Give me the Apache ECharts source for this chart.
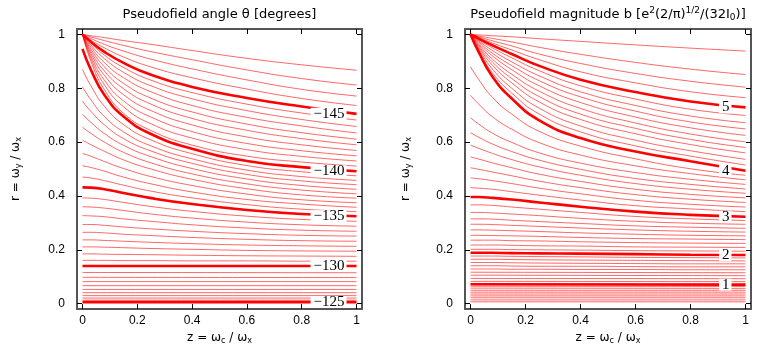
<!DOCTYPE html>
<html><head><meta charset="utf-8">
<script src="https://cdn.jsdelivr.net/npm/echarts@6/dist/echarts.min.js"></script>
<style>html,body{margin:0;padding:0;background:#fff}#c{width:778px;height:350px}</style>
</head><body><div id="c"></div>
<script>
// z = omega_c/omega_x sample positions used by the curved contour rows
const zGrid = [0, 0.03, 0.08, 0.15, 0.25, 0.4, 0.6, 0.8, 1];
const xTicks = [0, 0.2, 0.4, 0.6, 0.8, 1];
const yTicks = [0, 0.2, 0.4, 0.6, 0.8, 1];

// Left panel: pseudofield angle theta contours (degrees)
const angleLevels = [-147,-146.5,-146,-145.5,-145,-144.5,-144,-143.5,-143,-142.5,-142,-141.5,-141,-140.5,
  -140,-139.5,-139,-138.5,-138,-137.5,-137,-136.5,-136,-135.5,
  -135,-134.5,-134,-133.5,-133,-132.5,-132,-131.5,-131,-130.5,
  -130,-129.5,-129,-128.5,-128,-127.5,-127,-126.5,-126,-125.5,-125];
const angleR = [
  [1,0.995,0.988,0.977,0.963,0.940,0.911,0.887,0.867],
  [1,0.991,0.977,0.959,0.936,0.906,0.868,0.836,0.812],
  [1,0.985,0.963,0.938,0.908,0.872,0.831,0.796,0.771],
  [1,0.979,0.950,0.916,0.879,0.839,0.797,0.762,0.736],
  [1,0.973,0.935,0.894,0.850,0.805,0.764,0.732,0.705],
  [1,0.968,0.923,0.877,0.830,0.784,0.741,0.708,0.682],
  [1,0.961,0.910,0.859,0.809,0.761,0.717,0.684,0.658],
  [1,0.954,0.895,0.839,0.787,0.736,0.692,0.660,0.634],
  [1,0.946,0.880,0.818,0.763,0.712,0.667,0.635,0.611],
  [1,0.938,0.864,0.798,0.741,0.688,0.644,0.613,0.590],
  [1,0.930,0.848,0.776,0.717,0.664,0.619,0.590,0.569],
  [1,0.921,0.830,0.753,0.693,0.639,0.595,0.568,0.549],
  [1,0.912,0.813,0.731,0.668,0.615,0.572,0.547,0.530],
  [1,0.902,0.795,0.707,0.643,0.589,0.548,0.526,0.511],
  [0.946,0.870,0.775,0.695,0.630,0.575,0.530,0.507,0.492],
  [0.870,0.810,0.733,0.665,0.608,0.557,0.513,0.490,0.475],
  [0.805,0.758,0.695,0.638,0.586,0.538,0.496,0.472,0.458],
  [0.752,0.715,0.664,0.613,0.567,0.521,0.480,0.456,0.442],
  [0.703,0.674,0.632,0.588,0.546,0.502,0.463,0.439,0.425],
  [0.655,0.633,0.600,0.562,0.523,0.482,0.445,0.422,0.408],
  [0.607,0.591,0.566,0.534,0.500,0.462,0.427,0.404,0.392],
  [0.558,0.548,0.528,0.502,0.472,0.439,0.407,0.386,0.375],
  [0.512,0.506,0.492,0.470,0.445,0.415,0.387,0.370,0.358],
  [0.470,0.467,0.457,0.440,0.418,0.393,0.368,0.351,0.342],
  [0.432,0.431,0.425,0.411,0.392,0.370,0.348,0.333,0.325],
  [0.393,0.392,0.387,0.376,0.361,0.343,0.325,0.313,0.306],
  [0.360,0.359,0.355,0.346,0.333,0.318,0.303,0.293,0.288],
  [0.327,0.326,0.323,0.315,0.306,0.293,0.281,0.273,0.269],
  [0.294,0.294,0.291,0.285,0.278,0.269,0.260,0.254,0.251],
  [0.265,0.265,0.263,0.258,0.253,0.246,0.239,0.234,0.232],
  [0.237,0.237,0.235,0.232,0.228,0.223,0.218,0.215,0.213],
  [0.211,0.211,0.210,0.208,0.205,0.202,0.198,0.196,0.195],
  [0.185,0.185,0.184,0.183,0.182,0.180,0.178,0.177,0.176],
  [0.161,0.161,0.161,0.160,0.160,0.159,0.159,0.158,0.158],
  [0.140,0.140],
  [0.116,0.115],
  [0.098,0.097],
  [0.082,0.082],
  [0.067,0.067],
  [0.053,0.053],
  [0.041,0.041],
  [0.030,0.030],
  [0.021,0.021],
  [0.013,0.013],
  [0.006,0.006]
];
const angleLabelLevels = [-145, -140, -135, -130, -125];

// Right panel: pseudofield magnitude b contours
const magLevels = [5.4,5.3,5.2,5.1,5.0,4.9,4.8,4.7,4.6,4.5,4.4,4.3,4.2,4.1,4.0,
  3.9,3.8,3.7,3.6,3.5,3.4,3.3,3.2,3.1,3.0,2.9,2.8,2.7,2.6,2.5,2.4,2.3,2.2,2.1,2.0,
  1.9,1.8,1.7,1.6,1.5,1.4,1.3,1.2,1.1,1.0,0.9,0.8,0.7,0.6,0.5,0.4,0.3,0.2,0.1];
const magR = [
  [1,0.998,0.995,0.991,0.984,0.974,0.961,0.949,0.938],
  [1,0.994,0.985,0.972,0.952,0.926,0.896,0.871,0.851],
  [1,0.991,0.976,0.957,0.927,0.892,0.855,0.826,0.804],
  [1,0.988,0.968,0.942,0.906,0.861,0.820,0.787,0.765],
  [1,0.984,0.959,0.927,0.883,0.832,0.786,0.751,0.729],
  [1,0.980,0.950,0.913,0.865,0.809,0.760,0.722,0.699],
  [1,0.976,0.940,0.898,0.846,0.787,0.736,0.697,0.672],
  [1,0.972,0.930,0.884,0.828,0.768,0.715,0.675,0.649],
  [1,0.967,0.920,0.869,0.809,0.747,0.693,0.653,0.625],
  [1,0.962,0.908,0.852,0.789,0.725,0.671,0.630,0.601],
  [1,0.957,0.897,0.836,0.769,0.704,0.651,0.610,0.580],
  [1,0.952,0.885,0.820,0.749,0.684,0.631,0.591,0.560],
  [1,0.946,0.871,0.800,0.726,0.660,0.607,0.568,0.536],
  [1,0.940,0.857,0.782,0.704,0.638,0.586,0.548,0.515],
  [1,0.934,0.843,0.762,0.681,0.615,0.565,0.529,0.494],
  [0.880,0.832,0.766,0.704,0.640,0.585,0.538,0.501,0.477],
  [0.774,0.741,0.694,0.648,0.598,0.552,0.512,0.483,0.460],
  [0.690,0.667,0.633,0.599,0.560,0.522,0.487,0.462,0.443],
  [0.635,0.618,0.593,0.565,0.533,0.499,0.465,0.443,0.426],
  [0.589,0.577,0.558,0.535,0.508,0.477,0.446,0.425,0.410],
  [0.545,0.537,0.523,0.505,0.481,0.454,0.425,0.406,0.393],
  [0.505,0.499,0.489,0.475,0.455,0.431,0.405,0.388,0.376],
  [0.467,0.464,0.457,0.446,0.429,0.408,0.384,0.369,0.359],
  [0.431,0.429,0.425,0.416,0.403,0.385,0.364,0.352,0.342],
  [0.396,0.396,0.393,0.387,0.376,0.360,0.342,0.330,0.323],
  [0.367,0.367,0.365,0.359,0.351,0.339,0.324,0.315,0.309],
  [0.339,0.339,0.337,0.333,0.327,0.317,0.306,0.299,0.295],
  [0.315,0.315,0.314,0.310,0.305,0.298,0.289,0.284,0.280],
  [0.295,0.295,0.294,0.291,0.287,0.281,0.274,0.269,0.266],
  [0.274,0.274,0.273,0.271,0.268,0.263,0.258,0.254,0.252],
  [0.254,0.254,0.253,0.252,0.250,0.246,0.242,0.240,0.238],
  [0.236,0.236,0.236,0.234,0.233,0.230,0.227,0.225,0.224],
  [0.218,0.218,0.218,0.217,0.215,0.214,0.211,0.210,0.209],
  [0.202,0.202,0.202,0.201,0.200,0.199,0.197,0.196,0.195],
  [0.189,0.189,0.189,0.188,0.187,0.186,0.184,0.182,0.181],
  [0.177,0.177,0.177,0.176,0.175,0.174,0.172,0.171,0.170],
  [0.165,0.165,0.165,0.164,0.163,0.162,0.161,0.160,0.159],
  [0.153,0.153,0.153,0.152,0.151,0.150,0.149,0.148,0.148],
  [0.141,0.141,0.141,0.140,0.139,0.139,0.138,0.137,0.137],
  [0.129,0.129,0.129,0.128,0.128,0.127,0.127,0.126,0.126],
  [0.117,0.115],
  [0.106,0.104],
  [0.094,0.093],
  [0.083,0.082],
  [0.072,0.071],
  [0.065,0.064],
  [0.058,0.057],
  [0.050,0.050],
  [0.043,0.043],
  [0.036,0.036],
  [0.029,0.029],
  [0.022,0.022],
  [0.014,0.014],
  [0.007,0.007]
];
const magLabelLevels = [5, 4, 3, 2, 1];

const titleLeft = 'Pseudofield angle θ [degrees]';
const titleRight = '{a|Pseudofield magnitude b [e}{sup|2}{a|(2/π)}{sup|1/2}{a|/(32I}{sub|0}{a|)]}';
const xName = '{t|z = ω}{s|c}{t| / ω}{s|x}';
const yName = '{t|r = ω}{s|y}{t| / ω}{s|x}';

const nameRich = {
  t: {fontSize: 12, fontFamily: 'DejaVu Sans', color: '#000'},
  s: {fontSize: 8, fontFamily: 'DejaVu Sans', color: '#000', padding: [6, 0, 0, 0]}
};
const frame = {color: '#555', width: 2};

function xPair(gi) {
  const base = {gridIndex: gi, type: 'value', min: -0.02, max: 1.02, splitLine: {show: false},
    axisLine: {show: true, onZero: false, lineStyle: frame},
    axisTick: {show: true, inside: true, length: 5, customValues: xTicks, lineStyle: {color: '#000', width: 1}}};
  return [
    Object.assign({}, base, {position: 'bottom',
      axisLabel: {show: true, customValues: xTicks, margin: 6, fontSize: 12, color: '#000', fontFamily: 'Liberation Sans',
        formatter: v => String(+(+v).toFixed(1))},
      name: xName, nameLocation: 'middle', nameGap: 17, nameTextStyle: {rich: nameRich}}),
    Object.assign({}, base, {position: 'top', axisLabel: {show: false}})
  ];
}
function yPair(gi, gap) {
  const base = {gridIndex: gi, type: 'value', min: -0.02, max: 1.02, splitLine: {show: false},
    axisLine: {show: true, onZero: false, lineStyle: frame},
    axisTick: {show: true, inside: true, length: 5, customValues: yTicks, lineStyle: {color: '#000', width: 1}}};
  return [
    Object.assign({}, base, {position: 'left',
      axisLabel: {show: true, customValues: yTicks, margin: 12, fontSize: 12, color: '#000', fontFamily: 'Liberation Sans',
        formatter: v => String(+(+v).toFixed(1))},
      name: yName, nameLocation: 'middle', nameGap: gap, nameRotate: 90, nameTextStyle: {rich: nameRich}}),
    Object.assign({}, base, {position: 'right', axisLabel: {show: false}})
  ];
}

function buildSeries(levels, rows, labelLevels, gi, fmt, dist) {
  return levels.map((lv, i) => {
    const r = rows[i];
    const zs = r.length === zGrid.length ? zGrid : [0, 1];
    const thick = labelLevels.indexOf(lv) >= 0;
    const data = r.map((v, j) => {
      if (thick && j === r.length - 1) {
        return {value: [zs[j], v], label: {show: true, position: 'left', distance: dist, formatter: fmt(lv),
          fontFamily: 'Liberation Serif', fontSize: 15, color: '#000', backgroundColor: '#fff',
          padding: [0, 2, 0, 3], lineHeight: 12}};
      }
      return [zs[j], v];
    });
    return {type: 'line', xAxisIndex: gi * 2, yAxisIndex: gi * 2, data,
      smooth: 0.5, showSymbol: thick, symbol: 'circle', symbolSize: 0,
      lineStyle: thick ? {color: '#ff0000', width: 2.6} : {color: 'rgba(255,0,0,0.6)', width: 1},
      label: {show: false}, z: thick ? 5 : 2, silent: true, animation: false};
  });
}

const chart = echarts.init(document.getElementById('c'), null, {renderer: 'canvas'});
chart.setOption({
  backgroundColor: '#fff',
  animation: false,
  grid: [
    {left: 77, top: 29, width: 285, height: 292},
    {left: 465, top: 29, width: 286, height: 292}
  ],
  xAxis: xPair(0).concat(xPair(1)),
  yAxis: yPair(0, 54).concat(yPair(1, 52)),
  graphic: [
    {type: 'text', x: 219.5, y: 15, style: {text: titleLeft, fill: '#000', font: '13px "DejaVu Sans"', align: 'center', verticalAlign: 'middle'}},
    {type: 'text', x: 608, y: 15, style: {text: titleRight, fill: '#000', align: 'center', verticalAlign: 'middle',
      rich: {
        a: {fontSize: 13, fontFamily: 'DejaVu Sans', fill: '#000', color: '#000'},
        sup: {fontSize: 9, fontFamily: 'DejaVu Sans', fill: '#000', color: '#000', padding: [0, 0, 8, 0]},
        sub: {fontSize: 9, fontFamily: 'DejaVu Sans', fill: '#000', color: '#000', padding: [6, 0, 0, 0]}
      }}}
  ],
  series: buildSeries(angleLevels, angleR, angleLabelLevels, 0, lv => '−' + Math.abs(lv), 10)
    .concat(buildSeries(magLevels, magR, magLabelLevels, 1, lv => String(lv), 14))
});
</script></body></html>
